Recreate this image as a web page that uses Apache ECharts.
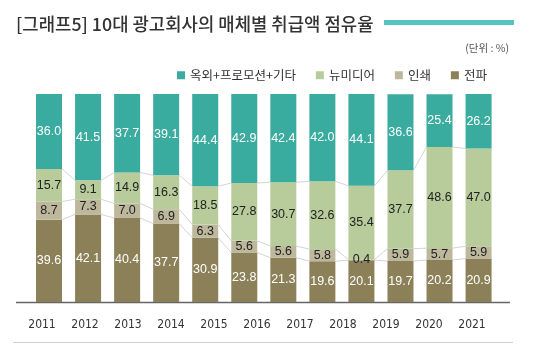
<!DOCTYPE html>
<html><head><meta charset="utf-8">
<script src="https://cdn.jsdelivr.net/npm/echarts@6/dist/echarts.min.js"></script>
<style>html,body{margin:0;padding:0;background:#fff}#c{width:533px;height:353px}</style>
</head><body><div id="c"></div>
<script>
const yearLabels = ['2011','2012','2013','2014','2015','2016','2017','2018','2019','2020','2021'];
const barSlots = ['1','2','3','4','5','6','7','8','9','10','11','12'];
const seriesNames = ['옥외+프로모션+기타','뉴미디어','인쇄','전파'];
const outdoor  = [36.0,41.5,37.7,39.1,44.4,42.9,42.4,42.0,44.1,36.6,25.4,26.2];
const newMedia = [15.7, 9.1,14.9,16.3,18.5,27.8,30.7,32.6,35.4,37.7,48.6,47.0];
const print    = [ 8.7, 7.3, 7.0, 6.9, 6.3, 5.6, 5.6, 5.8, 0.4, 5.9, 5.7, 5.9];
const broadcast= [39.6,42.1,40.4,37.7,30.9,23.8,21.3,19.6,20.1,19.7,20.2,20.9];

const colors = {outdoor:'#3aab9f', newMedia:'#b7cc9a', print:'#bdb79c', broadcast:'#8c8058'};
const BAR_W = 26;
const FONT = "'Liberation Sans', Arial, sans-serif";
const KR = "'Noto Sans CJK KR', sans-serif";

// connector lines data: [index, cumLeft, cumRight]
const stacks = [broadcast, print, newMedia];
const connData = [];
for (let k = 0; k < 3; k++) {
  for (let i = 0; i < barSlots.length - 1; i++) {
    let a = 0, b = 0;
    for (let j = 0; j <= k; j++) { a += stacks[j][i]; b += stacks[j][i+1]; }
    connData.push([i, a, b]);
  }
}

function lbl(color) {
  return {show:true, position:'inside', color:color, fontSize:12.5, fontFamily:FONT,
          formatter: p => p.value.toFixed(1)};
}

const chart = echarts.init(document.getElementById('c'), null, {renderer:'canvas'});
chart.setOption({
  animation:false,
  title:[
    {text:'[그래프5] 10대 광고회사의 매체별 취급액 점유율', left:11, top:10,
     textStyle:{fontSize:17.8, fontWeight:500, color:'#333', fontFamily:KR}},
    {text:'(단위 : %)', right:19, top:38,
     textStyle:{fontSize:10.5, fontWeight:'normal', color:'#555', fontFamily:KR}}
  ],
  legend:{
    data:seriesNames, left:172, top:64, icon:'rect', itemWidth:8, itemHeight:8, itemGap:20,
    textStyle:{fontSize:12.5, color:'#333', fontFamily:KR}
  },
  grid:[
    {left:29.5, width:468.6, top:94, height:208},
    {left:20.5, width:473, top:94, height:208}
  ],
  xAxis:[
    {type:'category', data:barSlots, gridIndex:0, axisLine:{show:false}, axisTick:{show:false}, axisLabel:{show:false}},
    {type:'category', data:yearLabels, gridIndex:1, axisLine:{show:false}, axisTick:{show:false},
     axisLabel:{margin:17, fontSize:12, color:'#333', fontFamily:"'Liberation Sans Narrow', 'DejaVu Sans Condensed', sans-serif"}}
  ],
  yAxis:[
    {type:'value', min:0, max:100, gridIndex:0, show:false, splitLine:{show:false}},
    {type:'value', min:0, max:100, gridIndex:1, show:false, splitLine:{show:false}}
  ],
  series:[
    {name:'전파', type:'bar', stack:'s', data:broadcast, barWidth:BAR_W, itemStyle:{color:colors.broadcast}, label:lbl('#fff')},
    {name:'인쇄', type:'bar', stack:'s', data:print, barWidth:BAR_W, itemStyle:{color:colors.print}, label:lbl('#222')},
    {name:'뉴미디어', type:'bar', stack:'s', data:newMedia, barWidth:BAR_W, itemStyle:{color:colors.newMedia}, label:lbl('#222')},
    {name:'옥외+프로모션+기타', type:'bar', stack:'s', data:outdoor, barWidth:BAR_W, itemStyle:{color:colors.outdoor}, label:lbl('#fff')},
    {type:'custom', data:connData, silent:true, z:1,
     renderItem:function(params, api){
       const i = api.value(0);
       const p1 = api.coord([i, api.value(1)]);
       const p2 = api.coord([i+1, api.value(2)]);
       return {type:'line', shape:{x1:p1[0]+BAR_W/2, y1:p1[1], x2:p2[0]-BAR_W/2, y2:p2[1]},
               style:{stroke:'#d4d4d4', lineWidth:1}};
     }}
  ],
  graphic:[
    {type:'rect', shape:{x:384, y:20, width:130, height:5}, style:{fill:'#55c3c0'}},
    {type:'line', shape:{x1:16, y1:302.5, x2:510, y2:302.5}, style:{stroke:'#666', lineWidth:1.5}},
    {type:'line', shape:{x1:13, y1:342.5, x2:513, y2:342.5}, style:{stroke:'#cfcfcf', lineWidth:1}}
  ]
});
</script></body></html>
